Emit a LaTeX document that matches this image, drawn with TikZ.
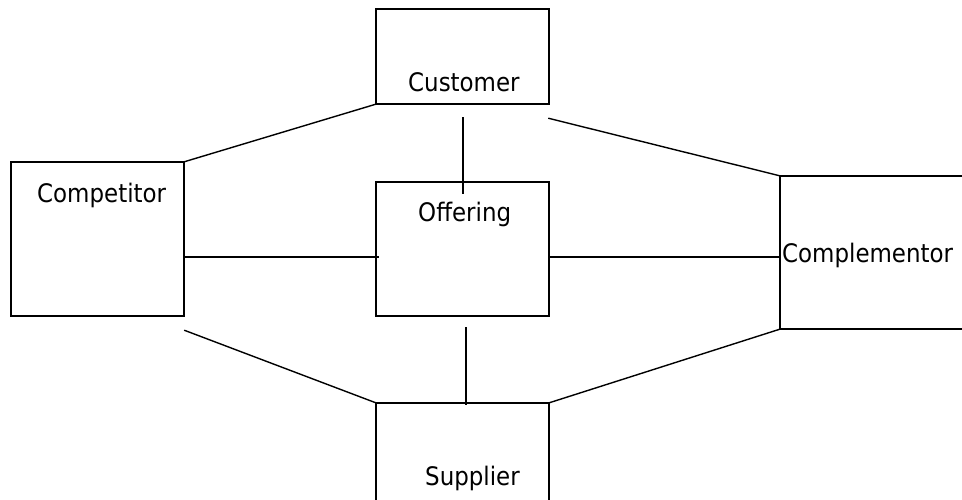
\documentclass[tikz,border=0pt]{standalone}
\usepackage{fontspec}
\setmainfont{DejaVu Sans Condensed}
\usetikzlibrary{calc}
\begin{document}
\begin{tikzpicture}[x=1pt,y=-1pt,
  box/.style={draw=black,line width=1.4pt,fill=none},
  conn/.style={draw=black,line width=1.4pt},
  lbl/.style={anchor=base west,inner sep=0pt,font=\fontsize{25.5}{30}\selectfont}]
\useasboundingbox (0,0) rectangle (962,500);
\clip (0,0) rectangle (962,500);
% boxes
\draw[box] (376,9) rectangle (549,104);
\coordinate (custSW) at (376,104); \coordinate (custSE) at (549,104);
\node[inner sep=0pt,minimum width=173pt,minimum height=95pt] (cust) at (462.5,56.5) {};
\draw[box] (11,162) rectangle (184,316);
\node[inner sep=0pt,minimum width=173pt,minimum height=154pt] (comp) at (97.5,239) {};
\draw[box] (376,182) rectangle (549,316);
\node[inner sep=0pt,minimum width=173pt,minimum height=134pt] (off) at (462.5,249) {};
\draw[box] (1010,176) -- (780,176) -- (780,329) -- (1010,329);
\node[inner sep=0pt,minimum width=230pt,minimum height=153pt] (cmpl) at (895,252.5) {};
\draw[box] (376,540) -- (376,403) -- (549,403) -- (549,540);
\node[inner sep=0pt,minimum width=173pt,minimum height=137pt] (sup) at (462.5,471.5) {};
% labels
\node[lbl] (tcust) at (408,92) {Customer};
\node[lbl] (tcomp) at (37,203) {Competitor};
\node[lbl] (toff) at (418,222) {Offering};
\node[lbl] (tcmpl) at (782,262) {Complementor};
\node[lbl] (tsup) at (425,485) {Supplier};
% connectors
\draw[conn] (cust.south west) -- (comp.north east);
\draw[conn] ($(cust.south east)+(-1,14)$) -- (cmpl.north west);
\draw[conn] ($(cust.south)+(0.5,13)$) -- ($(off.north)+(0.5,12)$);
\draw[conn] ($(comp.east)+(0,18)$) -- ($(off.west)+(3,8)$);
\draw[conn] ($(off.east)+(0,8)$) -- ($(cmpl.west)+(0,4.5)$);
\draw[conn] ($(comp.south east)+(0,14)$) -- (sup.north west);
\draw[conn] ($(off.south)+(3.5,11)$) -- ($(sup.north)+(3.5,2)$);
\draw[conn] (sup.north east) -- (cmpl.south west);
\end{tikzpicture}
\end{document}
